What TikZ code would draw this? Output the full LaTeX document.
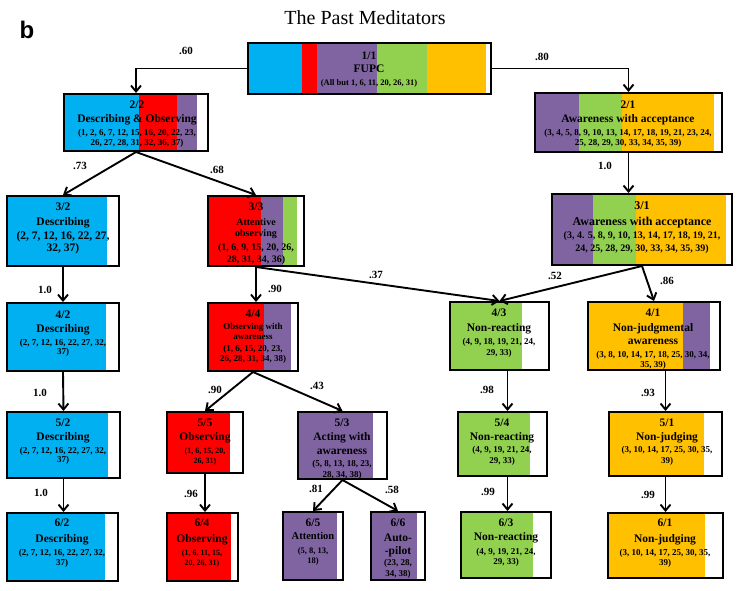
\documentclass[tikz,border=0pt]{standalone}
\usepackage{fontspec}
\setmainfont{Liberation Serif}
\setsansfont{Liberation Sans}
\usetikzlibrary{arrows.meta,fit}

\definecolor{cyanB}{RGB}{0,176,240}
\definecolor{redB}{RGB}{255,0,0}
\definecolor{purpleB}{RGB}{128,100,162}
\definecolor{greenB}{RGB}{146,208,80}
\definecolor{yellowB}{RGB}{255,192,0}

\newcommand{\hdfont}{\fontsize{11.5}{13.5}\selectfont}
\newcommand{\nmfont}{\fontsize{9}{10.5}\selectfont}
\newcommand{\smfont}{\fontsize{8}{10}\selectfont}

\begin{document}
\begin{tikzpicture}[x=1pt, y=-1pt,
    frame/.style={draw, line width=2pt, inner sep=0pt},
    txt/.style={align=center, inner sep=0pt, font=\bfseries\hdfont},
    link/.style={-{Straight Barb[length=6pt,width=10pt]}, line width=1.9pt},
    lbl/.style={font=\bfseries\fontsize{11}{13}\selectfont}]
    \useasboundingbox (0,0) rectangle (749,591);

    % Panel letter and title
    \node[font=\sffamily\bfseries\fontsize{24}{28}\selectfont] (panel) at (27,30) {b};
    \node[font=\fontsize{20}{24}\selectfont] (title) at (365,18) {The Past Meditators};

    % Level 1
    \foreach \c/\a/\b in {cyanB/248/302, redB/302/317, purpleB/317/377, greenB/377/427, yellowB/427/486}
        \fill[\c] (\a,43) rectangle (\b,94);
    \node[frame, fit={(248,43) (491,94)}] (n11) {};
    \node[txt] (t11) at (369,70) {1/1\\[-0.5pt] FUPC\\[-0.5pt] \fontsize{8.5}{10}\selectfont (All but 1, 6, 11, 20, 26, 31)};

    % Level 2
    \foreach \c/\a/\b in {cyanB/64/139, redB/139/177, purpleB/177/197}
        \fill[\c] (\a,94) rectangle (\b,151);
    \node[frame, fit={(64,94) (208,151)}] (n22) {};
    \node[txt] (t22) at (137,124) {2/2\\[0.5pt] Describing \& Observing\\[-0.5pt] \nmfont (1, 2, 6, 7, 12, 15, 16, 20, 22, 23,\\[-3.5pt] \nmfont 26, 27, 28, 31, 32, 36, 37)};
    \foreach \c/\a/\b in {purpleB/535/579, greenB/579/622, yellowB/622/714}
        \fill[\c] (\a,93) rectangle (\b,152);
    \node[frame, fit={(535,93) (722,152)}] (n21) {};
    \node[txt] (t21) at (628,124) {2/1\\[0.5pt] Awareness with acceptance\\[-0.5pt] \nmfont (3, 4, 5, 8, 9, 10, 13, 14, 17, 18, 19, 21, 23, 24,\\[-3.5pt] \nmfont 25, 28, 29, 30, 33, 34, 35, 39)};

    % Level 3
    \fill[cyanB] (7,196) rectangle (107,266);
    \node[frame, fit={(7,196) (119,266)}] (n32) {};
    \node[txt] (t32) at (63,228) {3/2\\[1.5pt] Describing\\[0.5pt] (2, 7, 12, 16, 22, 27,\\[-1.5pt] 32, 37)};
    \foreach \c/\a/\b in {redB/208/261, purpleB/261/283, greenB/283/297}
        \fill[\c] (\a,196) rectangle (\b,266);
    \node[frame, fit={(208,196) (304,266)}] (n33) {};
    \node[txt, font=\bfseries\fontsize{10}{12}\selectfont] (t33) at (256,233.5) {{\hdfont 3/3}\\[3.5pt] Attentive\\[-1pt] observing\\[1.5pt] (1, 6, 9, 15, 20, 26,\\ 28, 31, 34, 36)};
    \foreach \c/\a/\b in {purpleB/552/593, greenB/593/636, yellowB/636/726}
        \fill[\c] (\a,194) rectangle (\b,265);
    \node[frame, fit={(552,194) (732,265)}] (n31) {};
    \node[txt, font=\bfseries\fontsize{12}{14}\selectfont] (t31) at (642,227.5) {3/1\\[2pt] Awareness with acceptance\\[-1pt] \fontsize{10}{12}\selectfont (3, 4. 5, 8, 9, 10, 13, 14, 17, 18, 19, 21,\\[-1pt] \fontsize{10}{12}\selectfont 24, 25, 28, 29, 30, 33, 34, 35, 39)};

    % Level 4
    \fill[cyanB] (7,303) rectangle (106,371);
    \node[frame, fit={(7,303) (119,371)}] (n42) {};
    \node[txt] (t42) at (63,334) {4/2\\ Describing\\ \nmfont (2, 7, 12, 16, 22, 27, 32,\\[-4.5pt] \nmfont 37)};
    \foreach \c/\a/\b in {redB/208/264, purpleB/264/291}
        \fill[\c] (\a,303) rectangle (\b,371);
    \node[frame, fit={(208,303) (298,371)}] (n44) {};
    \node[txt, font=\bfseries\fontsize{9}{11}\selectfont] (t44) at (253,336.5) {{\hdfont 4/4}\\[1pt] Observing with\\[-1pt] awareness\\[1pt] (1, 6, 15, 20, 23,\\[-1pt] 26, 28, 31, 34, 38)};
    \fill[greenB] (450,302) rectangle (522,370);
    \node[frame, fit={(450,302) (549,370)}] (n43) {};
    \node[txt] (t43) at (499,333) {4/3\\[1.5pt] Non-reacting\\[-0.5pt] \nmfont (4, 9, 18, 19, 21, 24,\\[-2.5pt] \nmfont 29, 33)};
    \foreach \c/\a/\b in {yellowB/588/683, purpleB/683/710}
        \fill[\c] (\a,302) rectangle (\b,370);
    \node[frame, fit={(588,302) (720,370)}] (n41) {};
    \node[txt] (t41) at (653,339) {4/1\\[1.5pt] Non-judgmental\\[-0.5pt] awareness\\[-0.5pt] \nmfont (3, 8, 10, 14, 17, 18, 25, 30, 34,\\[-3.5pt] \nmfont 35, 39)};

    % Level 5
    \fill[cyanB] (7,412) rectangle (108,478);
    \node[frame, fit={(7,412) (120,478)}] (n52) {};
    \node[txt] (t52) at (63,442) {5/2\\ Describing\\ \nmfont (2, 7, 12, 16, 22, 27, 32,\\[-4.5pt] \nmfont 37)};
    \fill[redB] (167,412) rectangle (230,473);
    \node[frame, fit={(167,412) (243,473)}] (n55) {};
    \node[txt] (t55) at (205,442) {5/5\\ Observing\\ \smfont (1, 6, 15, 20,\\[-4pt] \smfont 26, 31)};
    \fill[purpleB] (298,412) rectangle (373,479);
    \node[frame, fit={(298,412) (387,479)}] (n53) {};
    \node[txt] (t53) at (342,449) {5/3\\[0.5pt] Acting with\\[0.5pt] awareness\\[-1.5pt] \nmfont (5, 8, 13, 18, 23,\\[-2.5pt] \nmfont 28, 34, 38)};
    \fill[greenB] (458,412) rectangle (530,476);
    \node[frame, fit={(458,412) (547,476)}] (n54) {};
    \node[txt] (t54) at (502,442) {5/4\\[0.5pt] Non-reacting\\[-1.5pt] \nmfont (4, 9, 19, 21, 24,\\[-2.5pt] \nmfont 29, 33)};
    \fill[yellowB] (609,412) rectangle (704,476);
    \node[frame, fit={(609,412) (722,476)}] (n51) {};
    \node[txt] (t51) at (667,442) {5/1\\[0.5pt] Non-judging\\[-1.5pt] \nmfont (3, 10, 14, 17, 25, 30, 35,\\[-2.5pt] \nmfont 39)};

    % Level 6
    \fill[cyanB] (7,513) rectangle (105,581);
    \node[frame, fit={(7,513) (118,581)}] (n62) {};
    \node[txt] (t62) at (62,543) {6/2\\[2.5pt] Describing\\[-0.5pt] \nmfont (2, 7, 12, 16, 22, 27, 32,\\[-3.5pt] \nmfont 37)};
    \fill[redB] (167,513) rectangle (231,581);
    \node[frame, fit={(167,513) (238,581)}] (n64) {};
    \node[txt] (t64) at (202,543) {6/4\\[2.5pt] Observing\\[-0.5pt] \smfont (1, 6, 11, 15,\\[-3.5pt] \smfont 20, 26, 31)};
    \fill[purpleB] (283,512) rectangle (337,580);
    \node[frame, fit={(283,512) (343,580)}] (n65) {};
    \node[txt] (t65) at (313,542) {6/5\\[-0.5pt] \fontsize{10.5}{12.5}\selectfont Attention\\[0.5pt] \fontsize{8.5}{10}\selectfont (5, 8, 13,\\[-3.5pt] \fontsize{8.5}{10}\selectfont 18)};
    \fill[purpleB] (371,512) rectangle (417,580);
    \node[frame, fit={(371,512) (425,580)}] (n66) {};
    \node[txt] (t66) at (398,548.5) {6/6\\[1.5pt] Auto-\\[-0.5pt] -pilot\\[-2.5pt] \nmfont (23, 28,\\[-2.5pt] \nmfont 34, 38)};
    \fill[greenB] (461,512) rectangle (533,578);
    \node[frame, fit={(461,512) (551,578)}] (n63) {};
    \node[txt] (t63) at (506,542.5) {6/3\\[0.5pt] Non-reacting\\[0.5pt] \nmfont (4, 9, 19, 21, 24,\\[-3.5pt] \nmfont 29, 33)};
    \fill[yellowB] (608,513) rectangle (705,578);
    \node[frame, fit={(608,513) (723,578)}] (n61) {};
    \node[txt] (t61) at (665,543) {6/1\\[2.5pt] Non-judging\\[-0.5pt] \nmfont (3, 10, 14, 17, 25, 30, 35,\\[-3.5pt] \nmfont 39)};

    % Connectors
    \draw[link] (n11.west) -| (n22.north);
    \draw[link] (n11.east) -| (n21.north);
    \draw[link] (n22.south) -- (n32.north);
    \draw[link] (n22.south) -- (n33.north);
    \draw[link] (n21.south) -- (n21.south |- n31.north);
    \draw[link] (n32.south) -- (n42.north);
    \draw[link] (n33.south) -- (n33.south |- n44.north);
    \draw[link] (n33.south) -- (n43.north);
    \draw[link] (n31.south) -- (n43.north);
    \draw[link] (n31.south) -- (n41.north);
    \draw[link] (n42.south) -- (n52.north);
    \draw[link] (n44.south) -- (n55.north);
    \draw[link] (n44.south) -- (n53.north);
    \draw[link] ([xshift=8pt]n43.south) -- ([xshift=8pt]n43.south |- n54.north);
    \draw[link] (n51.north |- n41.south) -- (n51.north);
    \draw[link] (n52.south) -- (n52.south |- n62.north);
    \draw[link] (n55.south) -- (n55.south |- n64.north);
    \draw[link] (n53.south) -- (n65.north);
    \draw[link] (n53.south) -- (n66.north);
    \draw[link] ([xshift=5pt]n54.south) -- ([xshift=5pt]n54.south |- n63.north);
    \draw[link] (n51.south) -- (n61.north);

    % Loadings
    \node[lbl] (l60) at (186,51) {.60};
    \node[lbl] (l80) at (542,57) {.80};
    \node[lbl] (l73) at (80,166) {.73};
    \node[lbl] (l68) at (217,170) {.68};
    \node[lbl] (l10a) at (605,166) {1.0};
    \node[lbl] (l37) at (376,275) {.37};
    \node[lbl] (l52) at (555,276) {.52};
    \node[lbl] (l86) at (667,281) {.86};
    \node[lbl] (l10b) at (45,290) {1.0};
    \node[lbl] (l90a) at (275,289) {.90};
    \node[lbl] (l10c) at (40,393) {1.0};
    \node[lbl] (l90b) at (215,390) {.90};
    \node[lbl] (l43) at (317,386) {.43};
    \node[lbl] (l98) at (487,390) {.98};
    \node[lbl] (l93) at (648,393) {.93};
    \node[lbl] (l10d) at (41,493) {1.0};
    \node[lbl] (l96) at (191,494) {.96};
    \node[lbl] (l81) at (316,489) {.81};
    \node[lbl] (l58) at (392,490) {.58};
    \node[lbl] (l99a) at (488,492) {.99};
    \node[lbl] (l99b) at (648,495) {.99};
\end{tikzpicture}
\end{document}
